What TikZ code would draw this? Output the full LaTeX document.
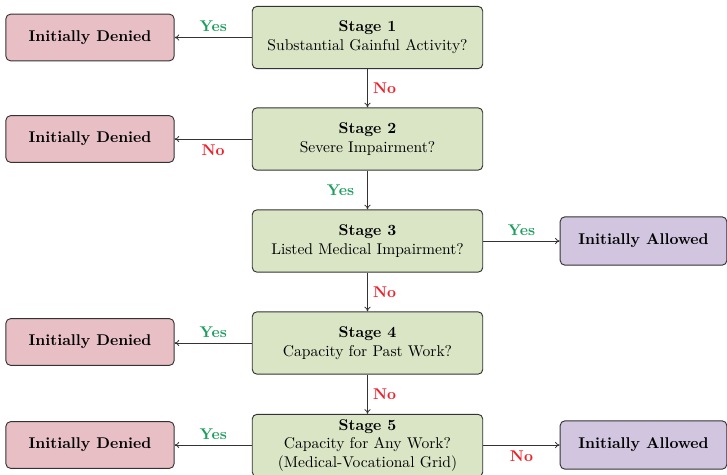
\documentclass[tikz,border=0pt]{standalone}
\usetikzlibrary{arrows.meta}
\definecolor{stagefill}{HTML}{D9E5C4}
\definecolor{denyfill}{HTML}{E7BFC4}
\definecolor{allowfill}{HTML}{D1C5DF}
\definecolor{yescol}{HTML}{1E9E5E}
\definecolor{nocol}{HTML}{F0202A}
\definecolor{edgecol}{HTML}{333333}
\begin{document}
\begin{tikzpicture}[x=0.642pt,y=-0.642pt,
  stagebox/.style={draw=edgecol,line width=0.6pt,rounded corners=3pt,fill=stagefill,
    minimum width=148pt,minimum height=40pt,align=center,inner sep=2pt},
  denybox/.style={draw=edgecol,line width=0.6pt,rounded corners=3pt,fill=denyfill,
    minimum width=108pt,minimum height=30pt,font=\bfseries},
  allowbox/.style={draw=edgecol,line width=0.6pt,rounded corners=3pt,fill=allowfill,
    minimum width=107pt,minimum height=31pt,font=\bfseries},
  conn/.style={draw=edgecol,line width=0.5pt,-{To[length=3pt,width=4pt]}},
  yeslab/.style={text=yescol,font=\bfseries},
  nolab/.style={text=nocol,font=\bfseries}]
\useasboundingbox (0,0) rectangle (727,475);
\node[stagebox] (s1) at (367.5,37.5) {\textbf{Stage 1}\\Substantial Gainful Activity?};
\node[stagebox] (s2) at (367.5,139) {\textbf{Stage 2}\\Severe Impairment?};
\node[stagebox] (s3) at (367.5,241) {\textbf{Stage 3}\\Listed Medical Impairment?};
\node[stagebox] (s4) at (367.5,343) {\textbf{Stage 4}\\Capacity for Past Work?};
\node[stagebox] (s5) at (367.5,445.5) {\textbf{Stage 5}\\Capacity for Any Work?\\(Medical-Vocational Grid)};
\node[denybox] (d1) at (90,37.5) {Initially Denied};
\node[denybox] (d2) at (90,139) {Initially Denied};
\node[denybox] (d4) at (90,342) {Initially Denied};
\node[denybox] (d5) at (90,445) {Initially Denied};
\node[allowbox] (a3) at (643.5,241) {Initially Allowed};
\node[allowbox] (a5) at (643.5,445) {Initially Allowed};
\draw[conn] (s1) -- node[yeslab,above] {Yes} (d1);
\draw[conn] (s1) -- node[nolab,right] {No} (s2);
\draw[conn] (s2) -- node[nolab,below] {No} (d2);
\draw[conn] (s2) -- node[yeslab,left=5pt] {Yes} (s3);
\draw[conn] (s3) -- node[yeslab,above] {Yes} (a3);
\draw[conn] (s3) -- node[nolab,right] {No} (s4);
\draw[conn] (s4.west) -- node[yeslab,above] {Yes} (d4.east|-s4.west);
\draw[conn] (s4) -- node[nolab,right] {No} (s5);
\draw[conn] (s5.west|-d5) -- node[yeslab,above] {Yes} (d5);
\draw[conn] (s5.east|-a5) -- node[nolab,below] {No} (a5);
\end{tikzpicture}
\end{document}
